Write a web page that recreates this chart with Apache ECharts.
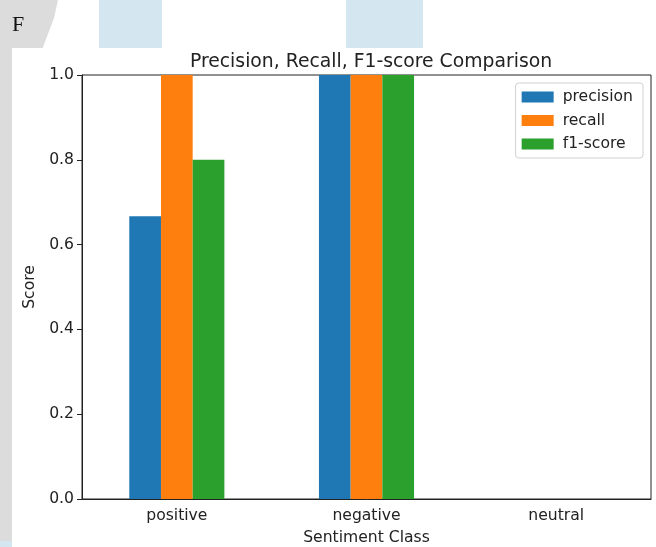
<!DOCTYPE html>
<html>
<head>
<meta charset="utf-8">
<script src="https://cdn.jsdelivr.net/npm/echarts@6/dist/echarts.min.js"></script>
<style>
html,body{margin:0;padding:0;background:#fff;}
#c{width:656px;height:547px;}
</style>
</head>
<body>
<div id="c"></div>
<script>
const categories = ['positive', 'negative', 'neutral'];
const precision = [0.667, 1.0, 0.0];
const recall = [1.0, 1.0, 0.0];
const f1score = [0.8, 1.0, 0.0];
const seriesNames = ['precision', 'recall', 'f1-score'];
const yTicks = [0, 0.2, 0.4, 0.6, 0.8, 1.0];

const chart = echarts.init(document.getElementById('c'), null, {renderer: 'canvas'});
const font = 'DejaVu Sans';
const fs = 15.6;
const colors = ['#1f77b4', '#ff7f0e', '#2ca02c'];
const values = [precision, recall, f1score];

chart.setOption({
  animation: false,
  backgroundColor: '#ffffff',
  graphic: [
    {type: 'rect', z: -10, shape: {x: 0, y: 0, width: 12, height: 547}, style: {fill: '#dcdcdc'}},
    {type: 'polygon', z: -10, shape: {points: [[0,0],[58,0],[54,18],[48,34],[42,50],[0,50]]}, style: {fill: '#dcdcdc'}},
    {type: 'rect', z: -10, shape: {x: 99, y: 0, width: 63, height: 50}, style: {fill: '#d4e6f0'}},
    {type: 'rect', z: -10, shape: {x: 346, y: 0, width: 77, height: 50}, style: {fill: '#d4e6f0'}},
    {type: 'rect', z: -10, shape: {x: 0, y: 541, width: 12, height: 6}, style: {fill: '#d4e6f0'}},
    {type: 'rect', z: -9, shape: {x: 12, y: 48, width: 644, height: 499}, style: {fill: '#ffffff'}},
    {type: 'text', z: -8, left: 12, top: 14, style: {text: 'F', font: '22px "Liberation Serif", serif', fill: '#111'}}
  ],
  title: {
    text: 'Precision, Recall, F1-score Comparison',
    left: 366, top: 48, textAlign: 'center',
    textStyle: {fontFamily: font, fontSize: 18.8, fontWeight: 'normal', color: '#222'}
  },
  legend: {
    orient: 'vertical', right: 13, top: 83,
    data: seriesNames,
    icon: 'rect', itemWidth: 32, itemHeight: 11, itemGap: 7.5,
    padding: [6, 10, 6, 6],
    borderColor: '#d0d0d0', borderWidth: 1, borderRadius: 3,
    backgroundColor: '#fff',
    textStyle: {fontFamily: font, fontSize: fs, color: '#222', padding: [0,0,0,4]}
  },
  grid: {
    left: 82, right: 5, top: 75, bottom: 48,
    outerBoundsMode: 'none', containLabel: false,
    show: true, borderColor: '#222', borderWidth: 1, backgroundColor: 'transparent'
  },
  xAxis: {
    type: 'category', data: categories,
    name: 'Sentiment Class', nameLocation: 'middle', nameGap: 31,
    nameTextStyle: {fontFamily: font, fontSize: fs, color: '#222'},
    axisLine: {lineStyle: {color: '#222'}},
    axisTick: {alignWithLabel: true, length: 5, lineStyle: {color: '#222'}},
    axisLabel: {fontFamily: font, fontSize: fs, color: '#222', margin: 9},
    splitLine: {show: false}
  },
  yAxis: {
    type: 'value', min: 0, max: 1, interval: 0.2,
    name: 'Score', nameLocation: 'middle', nameGap: 44,
    nameTextStyle: {fontFamily: font, fontSize: fs, color: '#222'},
    axisLine: {show: true, lineStyle: {color: '#222'}},
    axisTick: {show: true, length: 5, lineStyle: {color: '#222'}},
    axisLabel: {fontFamily: font, fontSize: fs, color: '#222', margin: 8,
      formatter: v => v.toFixed(1)},
    splitLine: {show: false}
  },
  series: seriesNames.map((n, i) => ({
    name: n, type: 'bar', data: values[i],
    barWidth: 31.7, barGap: '0%',
    itemStyle: {color: colors[i]}
  }))
});
</script>
</body>
</html>
